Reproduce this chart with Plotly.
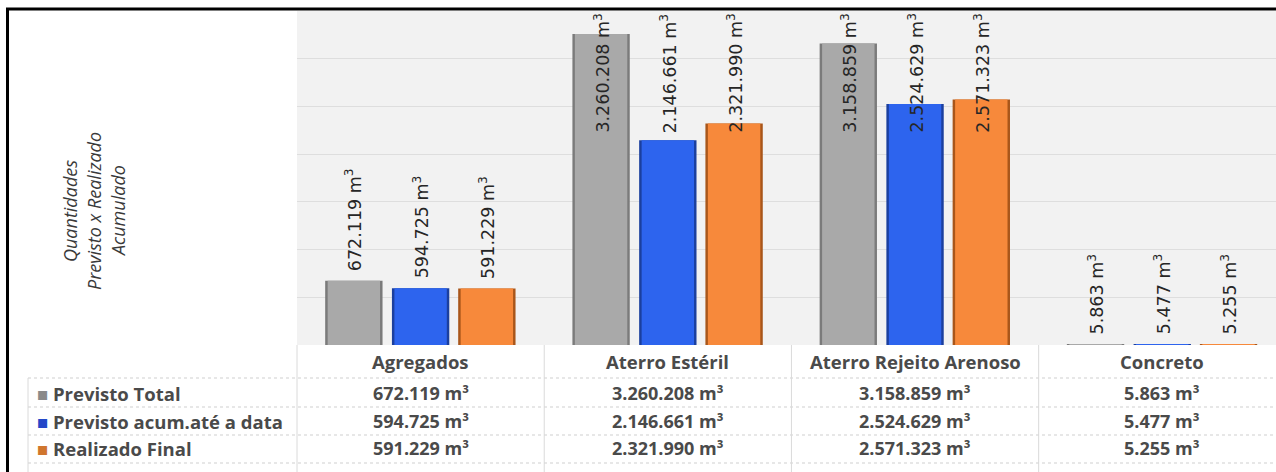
import plotly.graph_objects as go

# ---------------- data ----------------
categories = ["Agregados", "Aterro Estéril", "Aterro Rejeito Arenoso", "Concreto"]
series_names = ["Previsto Total", "Previsto acum.até a data", "Realizado Final"]
previsto_total = [672119, 3260208, 3158859, 5863]
previsto_acum = [594725, 2146661, 2524629, 5477]
realizado_final = [591229, 2321990, 2571323, 5255]
y_axis_title_lines = ["Quantidades", "Previsto x Realizado", "Acumulado"]
y_max = 3500000
y_step = 500000

series_values = [previsto_total, previsto_acum, realizado_final]
face_colors = ["#a9a9a9", "#2d64ee", "#f7893b"]
edge_colors = ["#7b7b7b", "#1b3f9e", "#a9561a"]
key_colors = ["#8a8a8a", "#2448c8", "#d0762e"]

# ---------------- layout geometry ----------------
W, H = 1276, 472
L, R, T, B = 297, 0, 11, 127
PW, PH = W - L - R, H - T - B
x_range = [-0.5, 3.46]


def px_x(p):
    return (p - L) / PW


def px_y(p):
    return (H - B - p) / PH


def data_x(v):
    return (v - x_range[0]) / (x_range[1] - x_range[0])


def fmt(v, sup=False):
    s = f"{v:,}".replace(",", ".")
    return s + (" m<sup>3</sup>" if sup else " m³")


fig = go.Figure()

bar_w = 0.232
face_w = 0.212
centers = [-0.27, 0.0, 0.268]
xs = list(range(len(categories)))

for i, name in enumerate(series_names):
    c = centers[i]
    fig.add_trace(go.Bar(
        x=xs, y=series_values[i], width=bar_w, offset=c - bar_w / 2,
        marker=dict(color=edge_colors[i], line=dict(width=0)),
        name=name, showlegend=False, hoverinfo="skip"))
    fig.add_trace(go.Bar(
        x=xs, y=series_values[i], width=face_w, offset=c - face_w / 2,
        marker=dict(color=face_colors[i], line=dict(width=0)),
        name=name, showlegend=False,
        hovertemplate="%{y:,}<extra>" + name + "</extra>"))

annotations = []
label_font = dict(family="DejaVu Sans", size=17.5, color="#262626")
for i, name in enumerate(series_names):
    for j, v in enumerate(series_values[i]):
        txt = fmt(v, sup=True)
        est_len = len(fmt(v)) * 11
        bar_px = v / y_max * PH
        if bar_px + 8 + est_len > PH - 2:
            annotations.append(dict(
                x=j + centers[i], y=y_max, xref="x", yref="y", text=txt,
                textangle=-90, showarrow=False, xanchor="center",
                yanchor="top", yshift=-1, font=label_font))
        else:
            annotations.append(dict(
                x=j + centers[i], y=v, xref="x", yref="y", text=txt,
                textangle=-90, showarrow=False, xanchor="center",
                yanchor="bottom", yshift=8, font=label_font))

# axis title (three rotated lines)
title_x_px = [70, 94, 118]
for k, line in enumerate(y_axis_title_lines):
    annotations.append(dict(
        x=px_x(title_x_px[k]), y=px_y(211), xref="paper", yref="paper",
        text="<i>" + line + "</i>",
        textangle=-90, showarrow=False, xanchor="center", yanchor="middle",
        font=dict(family="Open Sans", size=18, color="#3a3a3a"),
    ))

# data table
tbl_font = dict(family="Open Sans", size=18.5, color="#4a4a4a")
val_font = dict(family="Open Sans", size=18, color="#4a4a4a")
header_y = 362
row_y = [393, 421, 448]
for j, cat in enumerate(categories):
    annotations.append(dict(
        x=data_x(j), y=px_y(header_y), xref="paper", yref="paper",
        text="<b>" + cat + "</b>", showarrow=False, xanchor="center",
        yanchor="middle", font=tbl_font))
for i, name in enumerate(series_names):
    annotations.append(dict(
        x=px_x(35), y=px_y(row_y[i]), xref="paper", yref="paper",
        text=f"<span style='color:{key_colors[i]}'>■</span> <b>{name}</b>",
        showarrow=False, xanchor="left", yanchor="middle", font=tbl_font))
    for j, v in enumerate(series_values[i]):
        annotations.append(dict(
            x=data_x(j), y=px_y(row_y[i]), xref="paper", yref="paper",
            text="<b>" + fmt(v) + "</b>", showarrow=False, xanchor="center",
            yanchor="middle", font=val_font))

shapes = []
grid_line = dict(color="#cfcfcf", width=1, dash="dot")
for yy in [378, 407, 435, 463]:
    shapes.append(dict(type="line", xref="paper", yref="paper",
                       x0=px_x(28), x1=1.0, y0=px_y(yy), y1=px_y(yy),
                       line=grid_line))
for j in range(len(categories)):
    xb = data_x(j - 0.5)
    shapes.append(dict(type="line", xref="paper", yref="paper",
                       x0=xb, x1=xb, y0=0, y1=px_y(472),
                       line=dict(color="#dadada", width=1)))
shapes.append(dict(type="line", xref="paper", yref="paper",
                   x0=px_x(28), x1=px_x(28), y0=px_y(378), y1=px_y(472),
                   line=dict(color="#dadada", width=1)))
# outer frame
shapes.append(dict(type="rect", xref="paper", yref="paper",
                   x0=px_x(7.5), x1=px_x(1290), y0=px_y(490), y1=px_y(9),
                   line=dict(color="#000000", width=3), fillcolor="rgba(0,0,0,0)"))

fig.update_layout(
    width=W, height=H,
    margin=dict(l=L, r=R, t=T, b=B, pad=0),
    paper_bgcolor="#ffffff", plot_bgcolor="#f2f2f2",
    barmode="overlay",
    xaxis=dict(range=x_range, showticklabels=False, showgrid=False,
               zeroline=False, showline=False, fixedrange=True),
    yaxis=dict(range=[0, y_max], dtick=y_step, showticklabels=False,
               showgrid=True, gridcolor="#dedede", gridwidth=1,
               zeroline=False, showline=False, fixedrange=True),
    annotations=annotations, shapes=shapes,
    showlegend=False,
)

fig.write_html(
    "out.html",
    config={"displayModeBar": False},
    post_script="document.body.style.margin='0';document.body.style.overflow='hidden';",
)
